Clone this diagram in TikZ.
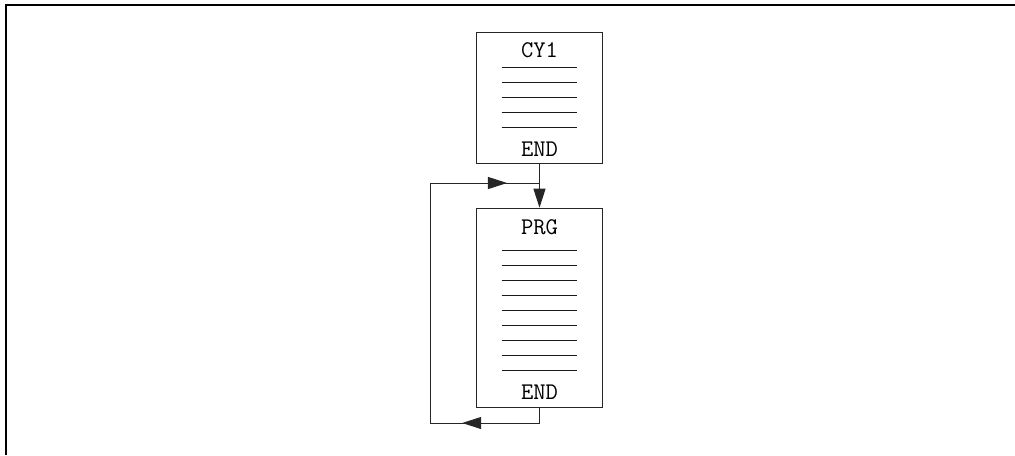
\documentclass[tikz,border=0pt]{standalone}
\usetikzlibrary{arrows.meta,positioning}
\tikzset{
  prgbox/.style={draw=black!85, line width=0.7pt, minimum width=3.125cm, inner sep=0pt},
  txt/.style={font=\ttfamily\fontsize{17}{19}\selectfont, inner sep=0pt},
  txtline/.style={draw=black!90, line width=0.7pt},
  flow/.style={draw=black!85, line width=0.7pt},
  tip/.style={flow, -{Triangle[length=0.475cm,width=0.3cm]}},
}
\begin{document}
\begin{tikzpicture}[x=0.025cm,y=-0.025cm]
  \useasboundingbox (0,0) rectangle (1015,455);
  % frame
  \draw[line width=1.5pt] (6,455) -- (6,5) -- (1015,5);
  % program boxes
  \node[prgbox, minimum height=3.25cm] (cy1) at (539.5,98) {};
  \node[prgbox, minimum height=4.975cm] (prg) at (539.5,307.7) {};
  \node[txt] (cy1name) at ([yshift=-0.43cm]cy1.north) {CY1};
  \node[txt] (cy1end) at ([yshift=0.37cm]cy1.south) {END};
  \node[txt] (prgname) at ([yshift=-0.5cm]prg.north) {PRG};
  \node[txt] (prgend) at ([yshift=0.39cm]prg.south) {END};
  \foreach \i in {0,...,4}
    \draw[txtline] ([xshift=-0.945cm, yshift={-0.875cm-\i*0.375cm}]cy1.north) -- ++(75,0);
  \foreach \i in {0,...,8}
    \draw[txtline] ([xshift=-0.945cm, yshift={-1.06cm-\i*0.375cm}]prg.north) -- ++(75,0);
  % connectors
  \coordinate (loopbl) at (430,423);
  \coordinate (looptl) at (430,183);
  \coordinate (looptr) at (cy1.south |- looptl);
  \draw[tip] (cy1.south) -- (prg.north);
  \draw[flow] (prg.south) -- (prg.south |- loopbl) -- (loopbl) -- (looptl) -- (looptr);
  \draw[tip] (looptl) -- ++(77,0);
  \draw[tip] (prg.south |- loopbl) -- ++(-77.3,0);
\end{tikzpicture}
\end{document}
